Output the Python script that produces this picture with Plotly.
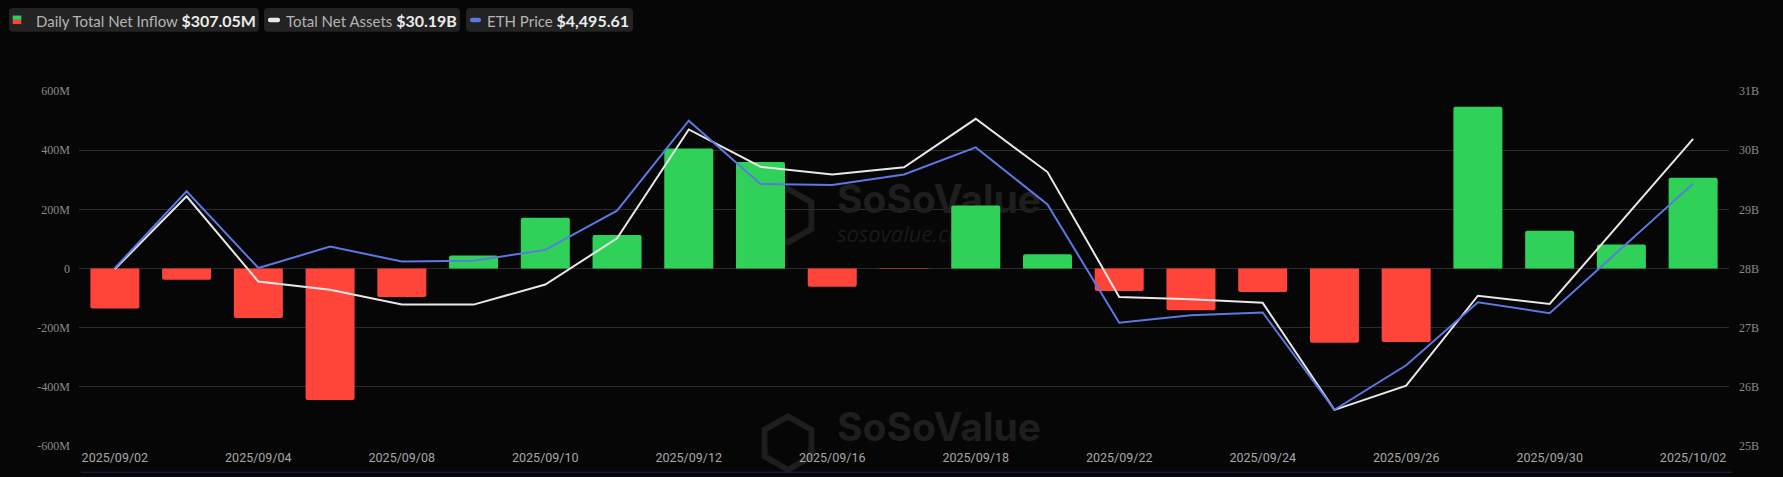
import plotly.graph_objects as go

# ---------------- data ----------------
dates = ["2025/09/02", "2025/09/03", "2025/09/04", "2025/09/05", "2025/09/08",
         "2025/09/09", "2025/09/10", "2025/09/11", "2025/09/12", "2025/09/15",
         "2025/09/16", "2025/09/17", "2025/09/18", "2025/09/19", "2025/09/22",
         "2025/09/23", "2025/09/24", "2025/09/25", "2025/09/26", "2025/09/29",
         "2025/09/30", "2025/10/01", "2025/10/02"]
net_inflow_m = [-135.3, -38.2, -167.4, -444.5, -96.6, 44.2, 171.5, 113.1, 405.5,
                359.7, -61.7, -1.9, 213.1, 47.8, -76.0, -140.8, -79.4, -251.2,
                -248.4, 546.9, 127.5, 80.9, 307.05]
total_net_assets_b = [27.99, 29.22, 27.78, 27.64, 27.39, 27.39, 27.73, 28.51, 30.35,
                      29.72, 29.59, 29.71, 30.53, 29.63, 27.52, 27.48, 27.42, 25.61,
                      26.02, 27.54, 27.40, 28.79, 30.19]
eth_price = [4262.2, 4474.6, 4262.2, 4321.4, 4280.4, 4282.2, 4312.3, 4420.8, 4669.8,
             4494.7, 4492.0, 4521.1, 4595.9, 4438.1, 4110.8, 4131.7, 4139.0, 3870.0,
             3993.1, 4167.3, 4137.2, 4316.4, 4495.61]
x_tick_labels = dates[::2]
left_tickvals = [-600, -400, -200, 0, 200, 400, 600]
left_ticktext = ["-600M", "-400M", "-200M", "0", "200M", "400M", "600M"]
right_tickvals = [25, 26, 27, 28, 29, 30, 31]
right_ticktext = ["25B", "26B", "27B", "28B", "29B", "30B", "31B"]
eth_range = [3769.7, 4751.9]

# ---------------- styling ----------------
BG = "#060606"
GREEN = "#30d158"
RED = "#ff453a"
WHITE_LINE = "#e8e8e8"
BLUE_LINE = "#5b78e3"
GRID = "#2c2c2c"
WM = "#1e1e1e"

FIG_W, FIG_H = 1783, 477
L, R, T, B = 79, 54, 91, 27
PW, PH = FIG_W - L - R, FIG_H - T - B


def fx(p):
    return (p - L) / PW


def fy(p):
    return (T + PH - p) / PH


def rrect_path(x0, y0, x1, y1, r):
    pts = [
        ("M", [(x0 + r, y0)]), ("L", [(x1 - r, y0)]), ("Q", [(x1, y0), (x1, y0 + r)]),
        ("L", [(x1, y1 - r)]), ("Q", [(x1, y1), (x1 - r, y1)]), ("L", [(x0 + r, y1)]),
        ("Q", [(x0, y1), (x0, y1 - r)]), ("L", [(x0, y0 + r)]), ("Q", [(x0, y0), (x0 + r, y0)]),
    ]
    s = ""
    for cmd, ps in pts:
        s += cmd + " " + " ".join(f"{fx(a):.6f},{fy(b):.6f}" for a, b in ps) + " "
    return s + "Z"


def hex_path(cx, cy, r):
    import math
    s = ""
    for i in range(6):
        ang = math.radians(90 + 60 * i)
        x = cx + r * math.cos(ang)
        y = cy - r * math.sin(ang)
        s += ("M " if i == 0 else "L ") + f"{fx(x):.6f},{fy(y):.6f} "
    return s + "Z"


fig = go.Figure()

# watermark (main, lowest subplot)
for (tx, ty) in [(837, 205), (837, 435)]:
    fig.add_trace(go.Scatter(
        x=[fx(tx)], y=[fy(ty)], mode="text", text=["<b>SoSoValue</b>"],
        textposition="middle right", cliponaxis=False, hoverinfo="skip", showlegend=False,
        textfont=dict(family="Inter", size=39, color=WM), xaxis="x", yaxis="y"))
    fig.add_trace(go.Scatter(
        x=[fx(tx)], y=[fy(ty + 33)], mode="text", text=["sosovalue.com"],
        textposition="middle right", cliponaxis=False, hoverinfo="skip", showlegend=False,
        textfont=dict(family="Open Sans", size=22, color="#1a1a1a", style="italic"),
        xaxis="x", yaxis="y"))

bar_colors = [GREEN if v >= 0 else RED for v in net_inflow_m]
fig.add_trace(go.Bar(
    x=dates, y=net_inflow_m, marker=dict(color=bar_colors, line=dict(width=0), cornerradius=2),
    name="Daily Total Net Inflow", xaxis="x2", yaxis="y2", showlegend=False))
fig.add_trace(go.Scatter(
    x=dates, y=total_net_assets_b, mode="lines", line=dict(color=WHITE_LINE, width=2),
    name="Total Net Assets", xaxis="x2", yaxis="y3", showlegend=False))
fig.add_trace(go.Scatter(
    x=dates, y=eth_price, mode="lines", line=dict(color=BLUE_LINE, width=2),
    name="ETH Price", xaxis="x2", yaxis="y4", showlegend=False))

shapes = []
# legend chips
chips = [(9, 259), (264, 460), (466, 633)]
for x0, x1 in chips:
    shapes.append(dict(type="path", xref="paper", yref="paper", path=rrect_path(x0, 7, x1, 31, 4),
                       fillcolor="#232323", line=dict(width=0), layer="above"))
# icons
shapes.append(dict(type="rect", xref="paper", yref="paper", x0=fx(12.7), x1=fx(21.3),
                   y0=fy(14.7), y1=fy(19), fillcolor=GREEN, line=dict(width=0)))
shapes.append(dict(type="rect", xref="paper", yref="paper", x0=fx(12.7), x1=fx(21.3),
                   y0=fy(19), y1=fy(23.3), fillcolor=RED, line=dict(width=0)))
shapes.append(dict(type="path", xref="paper", yref="paper", path=rrect_path(268, 17, 280, 21.5, 2),
                   fillcolor=WHITE_LINE, line=dict(width=0)))
shapes.append(dict(type="path", xref="paper", yref="paper", path=rrect_path(470, 17, 481, 21.5, 2),
                   fillcolor=BLUE_LINE, line=dict(width=0)))
# watermark icons
for cy in (217, 447):
    shapes.append(dict(type="path", xref="paper", yref="paper", path=hex_path(788, cy, 27),
                       line=dict(color=WM, width=6), layer="between"))
# bottom slider edge
shapes.append(dict(type="line", xref="paper", yref="paper", x0=fx(81), x1=fx(1732),
                   y0=fy(476.5), y1=fy(476.5), line=dict(color="#1b2a44", width=1)))

legend_texts = [
    (34, "Daily Total Net Inflow", f"${net_inflow_m[-1]:,.2f}M"),
    (284, "Total Net Assets", f"${total_net_assets_b[-1]:,.2f}B"),
    (485, "ETH Price", f"${eth_price[-1]:,.2f}"),
]
annotations = []
for x0, label, val in legend_texts:
    annotations.append(dict(
        xref="paper", yref="paper", x=fx(x0), y=fy(19.5), xanchor="left", yanchor="middle",
        showarrow=False,
        text=f"<span style='color:#b4b4b4;font-size:15px'>{label}</span> "
             f"<span style='color:#ececec;font-size:16px'><b>{val}</b></span>",
        font=dict(family="Lato", size=15, color="#b4b4b4")))

fig.update_layout(
    width=FIG_W, height=FIG_H,
    margin=dict(l=L, r=R, t=T, b=B, pad=0),
    paper_bgcolor=BG, plot_bgcolor=BG,
    showlegend=False, hovermode=False,
    bargap=0.317,
    shapes=shapes, annotations=annotations,
    xaxis=dict(range=[0, 1], visible=False, fixedrange=True),
    yaxis=dict(range=[0, 1], visible=False, fixedrange=True),
    xaxis2=dict(type="category", overlaying="x", anchor="y2", side="bottom",
                categoryorder="array", categoryarray=dates,
                tickmode="array", tickvals=x_tick_labels, ticktext=x_tick_labels,
                showgrid=False, showline=False, zeroline=False, ticks="",
                tickfont=dict(family="Roboto", size=12.5, color="#a6a6a6"),
                ticklabelstandoff=2),
    yaxis2=dict(overlaying="y", anchor="x2", side="left", range=[-600, 600],
                tickmode="array", tickvals=left_tickvals, ticktext=left_ticktext,
                showgrid=True, gridcolor=GRID, gridwidth=1, zeroline=False, showline=False,
                ticks="", ticklabelstandoff=8,
                tickfont=dict(family="Liberation Serif", size=12, color="#8a8a8a")),
    yaxis3=dict(overlaying="y", anchor="x2", side="right", range=[25, 31],
                tickmode="array", tickvals=right_tickvals, ticktext=right_ticktext,
                showgrid=False, zeroline=False, showline=False, ticks="", ticklabelstandoff=9,
                tickfont=dict(family="Liberation Serif", size=12, color="#8a8a8a")),
    yaxis4=dict(overlaying="y", anchor="x2", side="right", range=eth_range, visible=False),
)

fig.write_html("out.html",
               config={"displayModeBar": False, "staticPlot": True},
               post_script="document.body.style.margin='0';document.body.style.overflow='hidden';"
                           "document.body.style.background='" + BG + "';")
